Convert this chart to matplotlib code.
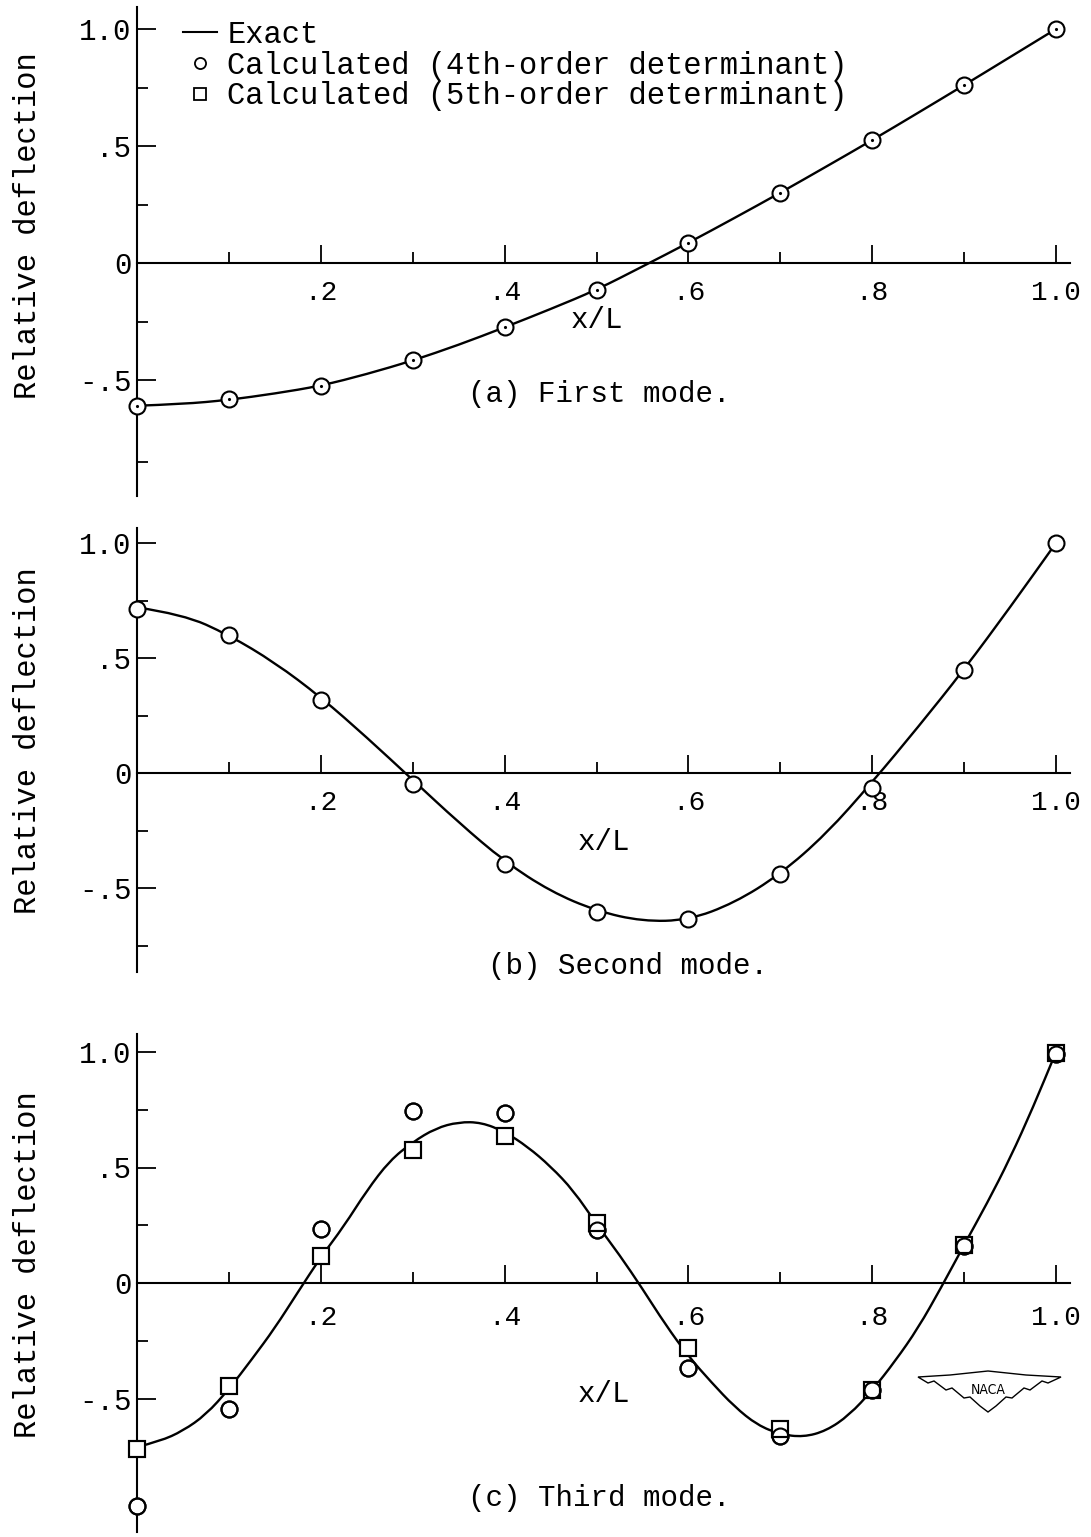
import numpy as np
import matplotlib
matplotlib.use("Agg")
import matplotlib.pyplot as plt
from matplotlib.lines import Line2D
from matplotlib.patches import Polygon, PathPatch
from matplotlib.path import Path
from matplotlib.transforms import blended_transform_factory

# ---- data ----
x_calc = [0.0, 0.1, 0.2, 0.3, 0.4, 0.5, 0.6, 0.7, 0.8, 0.9, 1.0]

x_exact_coarse = [0.0, 0.05, 0.1, 0.15, 0.2, 0.25, 0.3, 0.35, 0.4, 0.45, 0.5,
                  0.55, 0.6, 0.65, 0.7, 0.75, 0.8, 0.85, 0.9, 0.95, 1.0]

first_exact = [-0.61, -0.603, -0.585, -0.558, -0.525, -0.475, -0.417, -0.35, -0.275, -0.197, -0.115,
               -0.015, 0.086, 0.192, 0.30, 0.412, 0.525, 0.642, 0.76, 0.88, 1.0]
first_calc4 = [-0.61, -0.58, -0.525, -0.415, -0.275, -0.115, 0.086, 0.30, 0.525, 0.76, 1.0]

second_exact = [0.72, 0.69, 0.60, 0.48, 0.33, 0.155, -0.03, -0.215, -0.385, -0.515, -0.60,
                -0.645, -0.64, -0.565, -0.44, -0.265, -0.04, 0.20, 0.45, 0.72, 1.0]
second_calc4 = [0.712, 0.60, 0.318, -0.046, -0.395, -0.603, -0.636, -0.44, -0.064, 0.448, 1.0]

x_exact_fine = [0.0, 0.025, 0.05, 0.075, 0.1, 0.125, 0.15, 0.175, 0.2, 0.225, 0.25,
                0.275, 0.3, 0.325, 0.35, 0.375, 0.4, 0.425, 0.45, 0.475, 0.5,
                0.525, 0.55, 0.575, 0.6, 0.625, 0.65, 0.675, 0.7, 0.725, 0.75,
                0.775, 0.8, 0.825, 0.85, 0.875, 0.9, 0.925, 0.95, 0.975, 1.0]
third_exact = [-0.71, -0.685, -0.64, -0.57, -0.46, -0.33, -0.195, -0.04, 0.112, 0.245, 0.40,
               0.53, 0.61, 0.67, 0.697, 0.695, 0.655, 0.59, 0.505, 0.40, 0.255,
               0.122, -0.025, -0.18, -0.317, -0.43, -0.535, -0.615, -0.655, -0.667, -0.64,
               -0.572, -0.465, -0.338, -0.195, -0.02, 0.165, 0.345, 0.54, 0.76, 1.0]
third_calc4 = [-0.964, -0.547, 0.233, 0.744, 0.734, 0.23, -0.367, -0.662, -0.465, 0.16, 0.993]
third_calc5 = [-0.717, -0.446, 0.118, 0.576, 0.636, 0.259, -0.28, -0.63, -0.465, 0.165, 0.997]

legend_labels = ["Exact",
                 "Calculated (4th-order determinant)",
                 "Calculated (5th-order determinant)"]
captions = ["(a) First mode.", "(b) Second mode.", "(c) Third mode."]

x_major = [0.2, 0.4, 0.6, 0.8, 1.0]
x_major_labels = [".2", ".4", ".6", ".8", "1.0"]
x_minor = [0.1, 0.3, 0.5, 0.7, 0.9]
y_major = [-0.5, 0.0, 0.5, 1.0]
y_major_labels = ["-.5", "0", ".5", "1.0"]

# ---- layout (pixels of the 1091x1537 page) ----
W, H = 1091, 1537
X0_PX, UX = 137, 919
XMAX = 1.015

plt.rcParams["font.family"] = ["Liberation Mono", "DejaVu Sans Mono"]
fig = plt.figure(figsize=(W / 100, H / 100), dpi=100)


def make_axes(zero_px, uy, ylo, yhi, y_minor, xpad=12):
    top_px = zero_px - yhi * uy
    bot_px = zero_px - ylo * uy
    ax = fig.add_axes([X0_PX / W, 1 - bot_px / H, XMAX * UX / W, (bot_px - top_px) / H])
    ax.set_xlim(0, XMAX)
    ax.set_ylim(ylo, yhi)
    for s in ("top", "right"):
        ax.spines[s].set_visible(False)
    ax.spines["bottom"].set_position(("data", 0))
    for s in ("left", "bottom"):
        ax.spines[s].set_linewidth(1.5)
    ax.set_xticks(x_major)
    ax.set_xticklabels(x_major_labels)
    ax.set_xticks(x_minor, minor=True)
    ax.set_yticks(y_major)
    ax.set_yticklabels(y_major_labels)
    ax.set_yticks(y_minor, minor=True)
    ax.tick_params(axis="x", which="major", direction="in", length=13, width=1.3,
                   pad=xpad, labelsize=20)
    ax.tick_params(axis="x", which="minor", direction="in", length=8, width=1.3)
    ax.tick_params(axis="y", which="major", direction="in", length=14, width=1.3,
                   pad=4, labelsize=21)
    ax.tick_params(axis="y", which="minor", direction="in", length=8, width=1.3)
    return ax


def exact_curve(ax, xs, ys):
    # smooth drawn curve through the read points (quadratic Bezier segments)
    verts = [(xs[0], ys[0])]
    codes = [Path.MOVETO]
    for i in range(1, len(xs) - 1):
        verts += [(xs[i], ys[i]), ((xs[i] + xs[i + 1]) / 2, (ys[i] + ys[i + 1]) / 2)]
        codes += [Path.CURVE3, Path.CURVE3]
    verts.append((xs[-1], ys[-1]))
    codes.append(Path.LINETO)
    ax.add_patch(PathPatch(Path(verts, codes), fill=False, ec="k", lw=1.7, zorder=2,
                           capstyle="round", joinstyle="round"))


def draw_circles(ax, y, dots=False):
    ax.plot(x_calc, y, ls="none", marker="o", ms=11.5, mfc="white", mec="k",
            mew=1.5, clip_on=False, zorder=3)
    if dots:
        ax.plot(x_calc, y, ls="none", marker=".", ms=2.5, color="k",
                clip_on=False, zorder=5)


def ylabel(ax, yc):
    tr = blended_transform_factory(fig.transFigure, ax.transData)
    ax.text(28 / W, yc, "Relative deflection", transform=tr, rotation=90,
            ha="center", va="center", fontsize=22)


# (a) first mode
ax_a = make_axes(263, 234, -0.995, 1.095, [0.75, 0.25, -0.25, -0.85])
exact_curve(ax_a, x_exact_coarse, first_exact)
draw_circles(ax_a, first_calc4, dots=True)
ax_a.text(0.50, -0.245, "x/L", ha="center", va="center", fontsize=21)
ax_a.text(0.36, -0.56, captions[0], ha="left", va="center", fontsize=21)
ylabel(ax_a, 0.16)
handles = [Line2D([], [], color="k", lw=1.5),
           Line2D([], [], ls="none", marker="o", ms=8, mfc="white", mec="k", mew=1.3),
           Line2D([], [], ls="none", marker="s", ms=8, mfc="white", mec="k", mew=1.3)]
ax_a.legend(handles, legend_labels, loc="upper left", bbox_to_anchor=(0.05, 1.04),
            bbox_transform=ax_a.transData, frameon=False, fontsize=22,
            handlelength=1.1, handletextpad=0.35, labelspacing=0.03,
            borderpad=0, borderaxespad=0)

# (b) second mode
ax_b = make_axes(773, 230, -0.865, 1.065, [0.75, 0.25, -0.25, -0.75])
exact_curve(ax_b, x_exact_coarse, second_exact)
draw_circles(ax_b, second_calc4)
ax_b.text(0.508, -0.30, "x/L", ha="center", va="center", fontsize=21)
ax_b.text(0.382, -0.84, captions[1], ha="left", va="center", fontsize=21)
ylabel(ax_b, 0.14)

# (c) third mode
ax_c = make_axes(1283, 231, -1.08, 1.08, [0.75, 0.25, -0.25], xpad=16)
exact_curve(ax_c, x_exact_fine, third_exact)
for face, z in (("white", 3), ("none", 4)):
    ax_c.plot(x_calc, third_calc4, ls="none", marker="o", ms=11.5, mfc=face, mec="k",
              mew=1.5, clip_on=False, zorder=z)
    ax_c.plot(x_calc, third_calc5, ls="none", marker="s", ms=11.5, mfc=face, mec="k",
              mew=1.5, clip_on=False, zorder=z)
ax_c.text(0.508, -0.48, "x/L", ha="center", va="center", fontsize=21)
ax_c.text(0.360, -0.93, captions[2], ha="left", va="center", fontsize=21)
ylabel(ax_c, 0.08)

# NACA wing emblem
wing_px = [(918, 1377), (950, 1375), (988, 1371), (1026, 1375), (1061, 1377),
           (1048, 1383), (1042, 1381), (1030, 1390), (1024, 1388), (1012, 1398),
           (1006, 1397), (996, 1406), (988, 1412), (980, 1406), (970, 1397),
           (964, 1398), (952, 1388), (946, 1390), (934, 1381), (928, 1383)]
wing = Polygon([(x / W, 1 - y / H) for x, y in wing_px], closed=True, fill=False,
               ec="k", lw=1.0, transform=fig.transFigure)
fig.add_artist(wing)
fig.text(988 / W, 1 - 1390 / H, "NACA", ha="center", va="center", fontsize=10,
         family="DejaVu Sans", stretch="condensed")

fig.savefig("out.png", dpi=100, facecolor="white")
